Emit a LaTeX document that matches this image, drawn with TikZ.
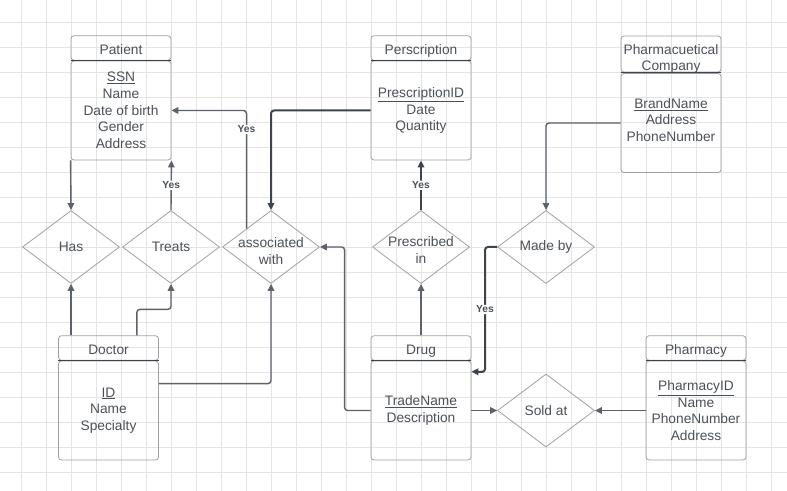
\documentclass[tikz,border=0pt]{standalone}
\usepackage{fontspec}
\setmainfont{Liberation Sans}
\usepackage{xcolor}
\usepackage{tikz}
\usetikzlibrary{shapes.geometric,arrows.meta,calc}
\definecolor{textgray}{HTML}{4B5159}
\definecolor{boxgray}{HTML}{9DA1A6}
\definecolor{linegray}{HTML}{5C626A}
\definecolor{darkline}{HTML}{3E444C}
\definecolor{gridgray}{HTML}{E4E4E4}

\begin{document}
\begin{tikzpicture}[x=1bp,y=-1bp,
  font=\fontsize{13.8}{16.7}\selectfont, text=textgray,
  head/.style={draw=boxgray,line width=0.8bp,rounded corners=3bp,minimum width=100bp,minimum height=24.5bp,inner sep=1bp,align=center,text height=15.5bp,text depth=3bp},
  attrs/.style={draw=boxgray,line width=0.8bp,rounded corners=3bp,minimum width=100bp,minimum height=99bp,inner sep=1bp,align=center},
  rel/.style={diamond,draw=boxgray,line width=0.8bp,minimum width=97bp,minimum height=73bp,inner sep=0pt},
  conn/.style={draw=linegray,line width=1.4bp,rounded corners=3bp,-{Triangle[length=7bp,width=6.5bp]}},
  bconn/.style={conn,draw=darkline,line width=2bp},
  yes/.style={fill=white,font=\fontsize{10.3}{12}\selectfont\bfseries,inner sep=1bp}]

% background grid
\fill[white] (0,0) rectangle (787,491);
\useasboundingbox (0,0) rectangle (787,491);
\foreach \i in {0,...,30}
  \draw[gridgray,line width=0.8bp] (21.7+25*\i,0) -- (21.7+25*\i,491);
\foreach \j in {0,...,18}
  \draw[gridgray,line width=0.8bp] (0,22+25*\j) -- (787,22+25*\j);

% entities
\node[head] (patient) at (121,48) {Patient};
\node[attrs] (patientattr) at (121,110.5) {\underline{SSN}\\Name\\Date of birth\\Gender\\Address};

\node[head] (pres) at (421,48) {Perscription};
\node[attrs] (presattr) at (421,110.5) {\underline{PrescriptionID}\\Date\\Quantity};

\node[head,minimum height=36bp,inner sep=0pt,text height=34.5bp,text depth=0.5bp] (pharmco) at (671,54) {Pharmacuetical\\Company};
\node[attrs,text depth=6bp] (pharmcoattr) at (671,123) {\underline{BrandName}\\Address\\PhoneNumber};

\node[head] (doctor) at (108.5,348) {Doctor};
\node[attrs] (doctorattr) at (108.5,410.5) {\underline{ID}\\Name\\Specialty};

\node[head] (drug) at (421,348) {Drug};
\node[attrs] (drugattr) at (421,410.5) {\underline{TradeName}\\Description};

\node[head] (pharmacy) at (696,348) {Pharmacy};
\node[attrs] (pharmacyattr) at (696,410.5) {\underline{PharmacyID}\\Name\\PhoneNumber\\Address};

\foreach \e in {patient,pres,pharmco,doctor,drug,pharmacy}
  \draw[darkline,line width=1bp] (\e.south west) -- (\e.south east);

% relationships
\node[rel,label={center:Has}] (has) at (71,247) {};
\node[rel,label={center:Treats}] (treats) at (171,247) {};
\node[rel,label={[align=center,yshift=-4bp]center:{associated\\with}}] (assoc) at (271,247) {};
\node[rel,label={[align=center,yshift=-3bp]center:{Prescribed\\in}}] (prescribed) at (421,247) {};
\node[rel,label={center:Made by}] (madeby) at (546,247) {};
\node[rel,label={center:Sold at}] (soldat) at (546,410.5) {};

% connectors
\draw[conn] (patientattr.south west) -- (has.north);
\draw[conn] (treats.north) -- node[yes]{Yes} (patientattr.south east);
\draw[conn] ($(assoc.west)!0.5!(assoc.north)$) |- node[yes,pos=0.42]{Yes} (patientattr.east);
\draw[bconn] (presattr.west) -| (assoc.north);
\draw[bconn] (prescribed.north) -- node[yes]{Yes} (presattr.south);
\draw[conn] (pharmcoattr.west) -| (madeby.north);
\draw[bconn] (madeby.west) -- (485,247) -- node[yes]{Yes} (485,372) -- ($(drugattr.north east)+(0,11)$);

\draw[conn] (has.south |- doctor.north) -- (has.south);
\draw[conn] ([xshift=-22bp]doctor.north east) -- ++(0,-26) -| (treats.south);
\draw[conn] ($(doctorattr.north east)+(0,23)$) -| (assoc.south);
\draw[conn] (drugattr.west) -- ++(-26,0) |- (assoc.east);
\draw[conn] (drug.north) -- (prescribed.south);
\draw[conn] (drugattr.east) -- (soldat.west);
\draw[conn] (pharmacyattr.west) -- (soldat.east);
\end{tikzpicture}
\end{document}
